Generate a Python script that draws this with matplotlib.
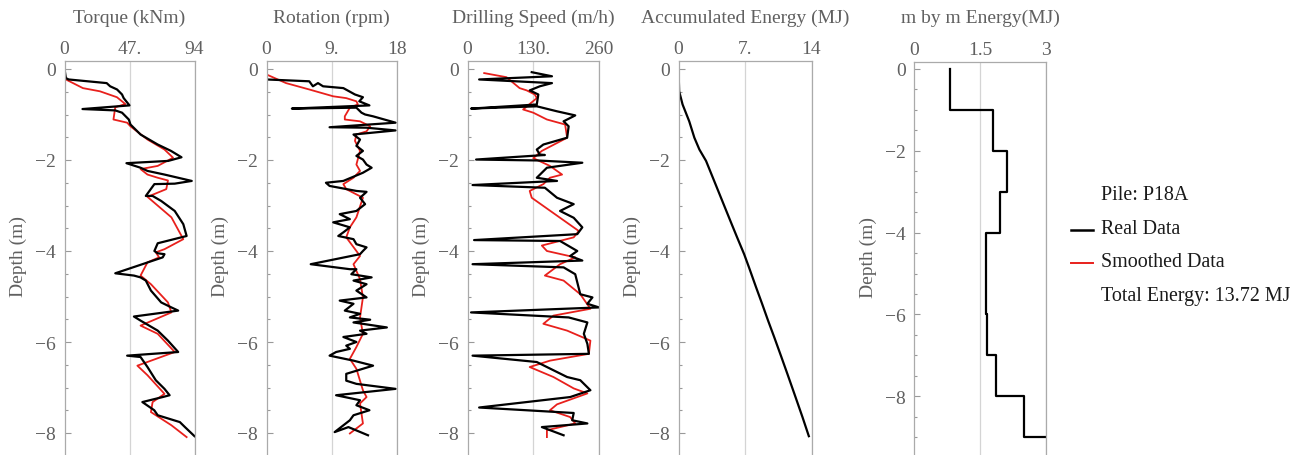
import numpy as np
import matplotlib
matplotlib.use('Agg')
import matplotlib.pyplot as plt
from matplotlib.lines import Line2D
from matplotlib.ticker import MultipleLocator

plt.rcParams['font.family'] = ['Liberation Serif', 'DejaVu Serif']

# ---- values (depth m, value) ----
pile_name = 'P18A'
total_energy = 13.72

torque_real = [(0, 0), (-0.2, 1), (-0.23, 3), (-0.31, 30.5), (-0.38, 33), (-0.45, 38), (-0.56, 41.6),
               (-0.64, 42.8), (-0.8, 47), (-0.88, 13), (-0.91, 36.7), (-0.96, 41.6), (-1.11, 46.5),
               (-1.22, 47.7), (-1.44, 55), (-1.66, 67.4), (-1.8, 77), (-1.94, 84.6), (-2.02, 75),
               (-2.07, 44.8), (-2.17, 55), (-2.24, 60), (-2.32, 72.3), (-2.46, 92), (-2.52, 79.7),
               (-2.53, 65), (-2.79, 58.8), (-2.79, 63.7), (-2.9, 69.9), (-3.12, 79.7), (-3.41, 85.9),
               (-3.67, 88.3), (-3.83, 67.4), (-4.0, 65), (-4.05, 67.4), (-4.07, 72.3), (-4.14, 71),
               (-4.49, 36.7), (-4.54, 50.2), (-4.58, 55), (-4.65, 58.8), (-4.87, 62.5), (-5.13, 69.9),
               (-5.24, 77.3), (-5.31, 82.2), (-5.44, 50.2), (-5.53, 55), (-5.75, 67.4), (-5.97, 74.8),
               (-6.22, 82.2), (-6.3, 45.3), (-6.33, 55), (-6.55, 60), (-6.84, 66), (-7.03, 72.3),
               (-7.17, 76), (-7.21, 71), (-7.32, 56.3), (-7.5, 64.9), (-7.61, 67.4), (-7.76, 83.4),
               (-7.87, 87.1), (-8.07, 94)]
torque_smooth = [(-0.09, 0), (-0.23, 1), (-0.42, 13.3), (-0.49, 25.6), (-0.62, 37.9), (-0.77, 44),
                 (-0.84, 36.7), (-1.11, 35.4), (-1.18, 45.3), (-1.26, 47.7), (-1.55, 60), (-1.77, 72.3),
                 (-1.95, 78.5), (-2.13, 67.4), (-2.2, 55), (-2.32, 60), (-2.39, 67.4), (-2.45, 74.8),
                 (-2.64, 73.6), (-2.81, 60), (-2.94, 65), (-3.26, 77.3), (-3.74, 85.9), (-3.96, 72.3),
                 (-4.03, 66), (-4.14, 68.4), (-4.25, 60), (-4.54, 55), (-4.73, 62.5), (-5.13, 74.8),
                 (-5.35, 77.3), (-5.64, 55), (-5.82, 67.4), (-6.22, 79.7), (-6.52, 52.7), (-6.73, 60),
                 (-7.14, 72.3), (-7.32, 63.7), (-7.54, 62.5), (-7.83, 77.3), (-8.09, 88.3)]

rotation_real = [(-0.01, 0), (-0.23, 0), (-0.27, 5.9), (-0.38, 6.4), (-0.31, 7.1), (-0.38, 7.8),
                 (-0.42, 10.6), (-0.56, 12.2), (-0.62, 13.3), (-0.71, 12.8), (-0.8, 14.2), (-0.87, 3.5),
                 (-0.85, 12.4), (-0.96, 13.1), (-1.0, 13.6), (-1.04, 14.7), (-1.18, 17.8), (-1.28, 8.7),
                 (-1.29, 13.8), (-1.35, 17.8), (-1.44, 12), (-1.55, 12.9), (-1.69, 12.4), (-1.8, 13.3),
                 (-1.91, 12.4), (-1.99, 13.3), (-2.1, 13.8), (-2.17, 14.5), (-2.28, 13.3), (-2.46, 10.6),
                 (-2.5, 8.2), (-2.57, 8.7), (-2.68, 12.4), (-2.7, 13.8), (-2.83, 12.9), (-2.97, 13.6),
                 (-3.12, 12.4), (-3.19, 10.1), (-3.3, 11.5), (-3.37, 9.2), (-3.48, 11.5), (-3.59, 10.6),
                 (-3.67, 9.9), (-3.74, 12), (-3.85, 12.4), (-3.92, 13.8), (-4.0, 13.3), (-4.07, 12.9),
                 (-4.29, 6.1), (-4.4, 11.5), (-4.4, 12.4), (-4.51, 11.7), (-4.58, 14.5), (-4.65, 12),
                 (-4.73, 13.8), (-4.87, 12.4), (-5.02, 13.8), (-5.09, 10.1), (-5.16, 12), (-5.31, 10.8),
                 (-5.38, 12.9), (-5.46, 11.5), (-5.51, 14.3), (-5.57, 12), (-5.68, 16.6), (-5.75, 12.9),
                 (-5.82, 13.8), (-5.89, 10.6), (-6.0, 12.4), (-6.08, 11.0), (-6.15, 11.5), (-6.22, 9.6),
                 (-6.3, 8.7), (-6.41, 12), (-6.52, 14.7), (-6.7, 11.0), (-6.85, 11.0), (-6.92, 12.4),
                 (-7.03, 17.8), (-7.17, 9.6), (-7.28, 12.9), (-7.39, 12.4), (-7.5, 14.2), (-7.61, 12),
                 (-7.72, 11.5), (-7.98, 9.4), (-7.87, 11.3), (-8.05, 14)]
rotation_smooth = [(-0.12, 0), (-0.31, 2.7), (-0.45, 5.9), (-0.6, 9.2), (-0.64, 11), (-0.71, 12.4),
                   (-0.78, 12.6), (-0.85, 11.5), (-1.04, 10.8), (-1.11, 10.8), (-1.15, 12.9), (-1.26, 14.3),
                   (-1.37, 13.8), (-1.44, 12.4), (-1.58, 12.2), (-1.8, 12.9), (-2.1, 12.4), (-2.24, 12.9),
                   (-2.39, 12), (-2.53, 10.6), (-2.64, 11), (-2.83, 13.3), (-3.26, 12.4), (-3.48, 11.5),
                   (-3.7, 11), (-4.0, 12.4), (-4.11, 12.9), (-4.29, 12), (-4.62, 12.9), (-5.02, 13.3),
                   (-5.46, 12.9), (-5.82, 13.3), (-6.11, 12.4), (-6.37, 11.5), (-6.59, 12.4), (-7.06, 13.3),
                   (-7.21, 13.8), (-7.35, 12.9), (-7.79, 13.3), (-8.01, 11.5)]

speed_real = [(-0.07, 127), (-0.16, 167), (-0.23, 23), (-0.31, 167), (-0.38, 143), (-0.47, 123),
              (-0.56, 140), (-0.78, 137), (-0.87, 7), (-0.82, 137), (-0.93, 177), (-1.02, 213),
              (-1.15, 190), (-1.26, 200), (-1.51, 197), (-1.66, 150), (-1.77, 137), (-1.88, 143),
              (-1.89, 153), (-1.99, 17), (-2.01, 137), (-2.06, 227), (-2.17, 157), (-2.39, 137),
              (-2.46, 177), (-2.55, 10), (-2.61, 153), (-2.83, 177), (-2.97, 210), (-3.12, 183),
              (-3.27, 210), (-3.48, 227), (-3.63, 217), (-3.76, 13), (-3.78, 183), (-4.0, 217),
              (-4.11, 203), (-4.21, 227), (-4.29, 10), (-4.36, 190), (-4.51, 213), (-4.95, 223),
              (-5.02, 247), (-5.16, 237), (-5.24, 260), (-5.35, 7), (-5.46, 200), (-5.57, 237),
              (-5.82, 230), (-6.04, 237), (-6.26, 240), (-6.3, 10), (-6.44, 137), (-6.77, 197),
              (-6.84, 223), (-7.06, 243), (-7.21, 203), (-7.44, 23), (-7.56, 210), (-7.72, 207),
              (-7.79, 237), (-7.87, 147), (-8.05, 190)]
speed_smooth = [(-0.09, 33), (-0.18, 77), (-0.42, 103), (-0.47, 117), (-0.56, 133), (-0.64, 137),
                (-0.89, 110), (-0.96, 130), (-1.11, 157), (-1.22, 193), (-1.51, 197), (-1.8, 147),
                (-1.96, 130), (-2.13, 163), (-2.32, 187), (-2.39, 163), (-2.53, 150), (-2.68, 123),
                (-2.83, 127), (-3.27, 183), (-3.56, 220), (-3.7, 210), (-3.88, 147), (-4.0, 157),
                (-4.14, 213), (-4.29, 183), (-4.54, 153), (-4.65, 190), (-4.95, 223), (-5.27, 243),
                (-5.42, 170), (-5.6, 150), (-5.75, 197), (-5.97, 243), (-6.26, 240), (-6.41, 163),
                (-6.55, 123), (-6.77, 170), (-7.02, 210), (-7.13, 237), (-7.37, 177), (-7.5, 163),
                (-7.65, 203), (-7.79, 213), (-7.94, 157), (-8.09, 157)]

acc_energy = [(0, 0), (-0.49, 0.07), (-0.78, 0.43), (-1.15, 1.13), (-1.51, 1.67), (-1.77, 2.2),
              (-2.02, 2.9), (-2.39, 3.62), (-2.72, 4.26), (-3.05, 4.9), (-3.41, 5.6), (-3.7, 6.17),
              (-4.07, 6.91), (-4.36, 7.42), (-4.8, 8.17), (-5.16, 8.8), (-5.53, 9.43), (-5.89, 10.07),
              (-6.33, 10.83), (-6.7, 11.46), (-7.14, 12.2), (-7.65, 13.05), (-8.07, 13.72)]

meter_depth = [0, -1, -2, -3, -4, -5, -6, -7, -8, -9]
meter_energy = [0.81, 1.79, 2.12, 1.96, 1.64, 1.64, 1.67, 1.87, 2.51, 2.98]

titles = ['Torque (kNm)', 'Rotation (rpm)', 'Drilling Speed (m/h)',
          'Accumulated Energy (MJ)', 'm by m Energy(MJ)']
x_max = [94, 18, 260, 14, 3]
x_labels = [['0', '47.', '94'], ['0', '9.', '18'], ['0', '130.', '260'],
            ['0', '7.', '14'], ['0', '1.5', '3']]

# ---- layout (pixels) ----
W, H = 1301, 456
lefts = [64.5, 266.5, 467.5, 678.5, 914]
rights = [194.5, 397, 599, 811.5, 1046]
tops = [62.3, 62.3, 62.3, 62.3, 62.7]
bottom_px = 466
zero_px = 70
px_per_m = [45.5, 45.5, 45.5, 45.5, 40.9]

txt_col = '#606060'
fig = plt.figure(figsize=(W / 100, H / 100), dpi=100)

axes = []
for i in range(5):
    w_px = rights[i] - lefts[i]
    h_px = bottom_px - tops[i]
    ax = fig.add_axes([lefts[i] / W, 1 - bottom_px / H, w_px / W, h_px / H])
    ax.set_xlim(0, x_max[i])
    ax.set_ylim(-(bottom_px - zero_px) / px_per_m[i], (zero_px - tops[i]) / px_per_m[i])
    ax.xaxis.tick_top()
    ax.set_xticks([0, x_max[i] / 2, x_max[i]])
    ax.set_xticklabels(x_labels[i])
    ax.tick_params(axis='x', length=0, pad=3, labelsize=14, labelcolor=txt_col)
    ax.yaxis.set_major_locator(MultipleLocator(2))
    ax.yaxis.set_minor_locator(MultipleLocator(0.5))
    ax.tick_params(axis='y', which='both', direction='in', left=True, right=False,
                   color='#999999', width=0.8, labelsize=14, labelcolor=txt_col, pad=6)
    ax.tick_params(axis='y', which='major', length=4)
    ax.tick_params(axis='y', which='minor', length=2.5)
    for xv in [x_max[i] / 2, x_max[i]]:
        ax.axvline(xv, color='#d4d4d4', lw=0.9, zorder=0)
    for s in ax.spines.values():
        s.set_color('#aaaaaa')
        s.set_linewidth(0.9)
    ax.text(0.5, 1 + 44.3 / h_px, titles[i], transform=ax.transAxes, ha='center',
            va='center', fontsize=14, color=txt_col)
    ax.text(-46 / w_px, 1 - (257 - tops[i]) / h_px, 'Depth (m)', transform=ax.transAxes,
            rotation=90, ha='center', va='center', fontsize=14, color=txt_col)
    axes.append(ax)

pairs = [(torque_real, torque_smooth), (rotation_real, rotation_smooth), (speed_real, speed_smooth)]
for ax, (real, smooth) in zip(axes[:3], pairs):
    sd, sv = np.array(smooth).T
    rd, rv = np.array(real).T
    ax.plot(sv, sd, color='#e8201c', lw=1.3)
    ax.plot(rv, rd, color='black', lw=1.6)

ad, av = np.array(acc_energy).T
axes[3].plot(av, ad, color='black', lw=1.6)

step_x = np.repeat(meter_energy, 2)[:-1]
step_y = np.repeat(meter_depth, 2)[1:]
axes[4].plot(step_x, step_y, color='black', lw=1.6)

# legend block
leg_col = '#1a1a1a'
fs_leg = 14.4
fig.text(1101 / W, 1 - 196 / H, 'Pile: ' + pile_name, fontsize=fs_leg, color=leg_col, va='center')
fig.add_artist(Line2D([1071 / W, 1093 / W], [1 - 230.5 / H] * 2, color='black', lw=1.8,
                      transform=fig.transFigure))
fig.text(1101 / W, 1 - 230 / H, 'Real Data', fontsize=fs_leg, color=leg_col, va='center')
fig.add_artist(Line2D([1071 / W, 1093 / W], [1 - 264 / H] * 2, color='#e8201c', lw=1.4,
                      transform=fig.transFigure))
fig.text(1101 / W, 1 - 263 / H, 'Smoothed Data', fontsize=fs_leg, color=leg_col, va='center')
fig.text(1101 / W, 1 - 297 / H, 'Total Energy: %.2f MJ' % total_energy, fontsize=fs_leg,
         color=leg_col, va='center')

fig.savefig('out.png', dpi=100)
